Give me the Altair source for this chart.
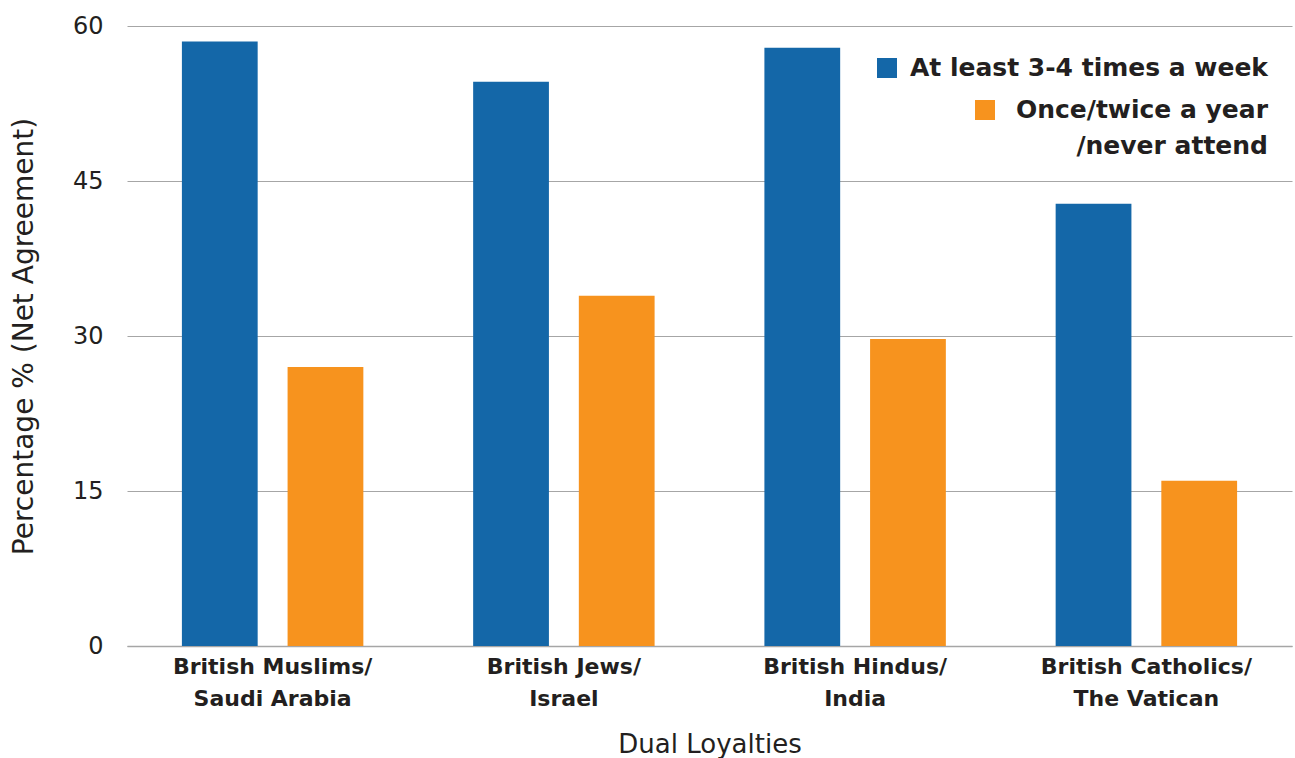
import altair as alt
import pandas as pd

# Net agreement with "dual loyalty" statements, by frequency of religious attendance
categories = [
    "British Muslims/Saudi Arabia",
    "British Jews/Israel",
    "British Hindus/India",
    "British Catholics/The Vatican",
]
series = ["At least 3-4 times a week", "Once/twice a year\n/never attend"]
weekly = [58.5, 54.6, 57.9, 42.8]
yearly = [27.0, 33.9, 29.7, 16.0]
y_ticks = [0, 15, 30, 45, 60]
colors = ["#1467a8", "#f7931e"]

rows = []
for cat, w, y in zip(categories, weekly, yearly):
    rows.append({"group": cat, "series": series[0], "value": w})
    rows.append({"group": cat, "series": series[1], "value": y})
df = pd.DataFrame(rows)

FONT = "DejaVu Sans"
INK = "#231f20"
GRID = "#a6a6a6"
W, H = 1165, 620

bars = alt.Chart(df).mark_bar().encode(
    x=alt.X(
        "group:N",
        sort=categories,
        scale=alt.Scale(paddingInner=0.377, paddingOuter=0.1885),
        axis=alt.Axis(
            title="Dual Loyalties",
            labelAngle=0,
            labelExpr="split(replace(datum.label, '/', '/|'), '|')",
            labelFont=FONT,
            labelFontSize=22,
            labelFontWeight="bold",
            labelColor=INK,
            labelLineHeight=32,
            labelPadding=10,
            labelLimit=400,
            ticks=False,
            grid=False,
            domain=True,
            domainColor=GRID,
            domainWidth=1.5,
            titleFont=FONT,
            titleFontSize=26,
            titleFontWeight="normal",
            titleColor=INK,
            titlePadding=22,
        ),
    ),
    xOffset=alt.XOffset(
        "series:N",
        sort=series,
        scale=alt.Scale(paddingInner=0.283, paddingOuter=0),
    ),
    y=alt.Y(
        "value:Q",
        scale=alt.Scale(domain=[0, 60], nice=False),
        axis=alt.Axis(
            title="Percentage % (Net Agreement)",
            values=y_ticks,
            labelFont=FONT,
            labelFontSize=24,
            labelColor=INK,
            labelPadding=24,
            ticks=False,
            domain=False,
            grid=True,
            gridColor=GRID,
            gridWidth=1,
            titleFont=FONT,
            titleFontSize=28,
            titleFontWeight="normal",
            titleColor=INK,
            titlePadding=34,
        ),
    ),
    color=alt.Color(
        "series:N",
        sort=series,
        scale=alt.Scale(domain=series, range=colors),
        legend=None,
    ),
)

# Hand-placed legend in the upper right corner of the plot
legend_text = dict(
    align="right",
    baseline="middle",
    font=FONT,
    fontSize=25,
    fontWeight="bold",
    color=INK,
    lineBreak="\n",
    lineHeight=36,
)

key1 = alt.Chart(pd.DataFrame({"series": [series[0]]})).mark_square(
    size=400, opacity=1, color=colors[0]
).encode(x=alt.value(760), y=alt.value(42))
label1 = alt.Chart(pd.DataFrame({"series": [series[0]]})).mark_text(
    **legend_text
).encode(text="series:N", x=alt.value(1141), y=alt.value(42))

key2 = alt.Chart(pd.DataFrame({"series": [series[1]]})).mark_square(
    size=400, opacity=1, color=colors[1]
).encode(x=alt.value(858), y=alt.value(84))
label2 = alt.Chart(pd.DataFrame({"series": [series[1]]})).mark_text(
    **legend_text
).encode(text="series:N", x=alt.value(1141), y=alt.value(84))

chart = (
    alt.layer(bars, key1, label1, key2, label2)
    .properties(
        width=W,
        height=H,
        autosize=alt.AutoSizeParams(type="none"),
        padding={"left": 127, "top": 26, "right": 3, "bottom": 112},
        background="white",
    )
    .configure_view(stroke=None)
)

chart.save("out.html", embed_options={"renderer": "svg", "actions": False})
